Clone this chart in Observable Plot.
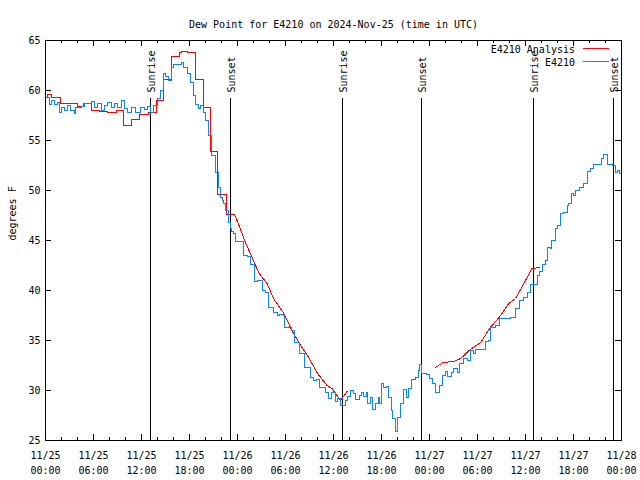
<!DOCTYPE html>
<html><head><meta charset="utf-8">
<script src="https://cdn.jsdelivr.net/npm/d3@7"></script>
<script src="https://cdn.jsdelivr.net/npm/@observablehq/plot@0.6"></script>
<style>html,body{margin:0;padding:0;background:#fff;}</style>
</head><body><div id="chart"></div>
<script>
const title = "Dew Point for E4210 on 2024-Nov-25 (time in UTC)";
const yLabel = "degrees F";
const xDomain = [0, 72];           // hours since 11/25 00:00 UTC
const yDomain = [25, 65];
const xTickHours = [0, 6, 12, 18, 24, 30, 36, 42, 48, 54, 60, 66, 72];
const xTickDates = ["11/25","11/25","11/25","11/25","11/26","11/26","11/26","11/26","11/27","11/27","11/27","11/27","11/28"];
const xTickTimes = ["00:00","06:00","12:00","18:00","00:00","06:00","12:00","18:00","00:00","06:00","12:00","18:00","00:00"];
const xMinorHours = [2,4,8,10,14,16,20,22,26,28,32,34,38,40,44,46,50,52,56,58,62,64,68,70];
const yTicks = [25, 30, 35, 40, 45, 50, 55, 60, 65];
const sunHours = [13.1, 23.1, 37.1, 47.05, 61.05, 71.0];
const sunLabels = ["Sunrise", "Sunset", "Sunrise", "Sunset", "Sunrise", "Sunset"];
const seriesNames = ["E4210 Analysis", "E4210"];
const seriesColors = ["#ff0000", "#0a84ff"];

// E4210 observed dew point [hour, degF]
const observed = [[0,59.3],[0.5,58.6],[0.8,59.0],[1.1,58.6],[1.5,58.8],[1.75,57.8],[2.0,58.3],[2.4,58.0],[2.7,58.5],[3.1,58.0],[3.6,57.7],[3.8,58.3],[4.5,58.4],[4.9,58.7],[5.3,58.7],[5.7,58.9],[6.1,58.3],[6.5,58.7],[7.0,58.0],[7.4,58.5],[7.8,58.8],[8.2,58.3],[8.6,58.7],[9.0,58.3],[9.5,59.0],[9.9,58.2],[10.3,57.8],[10.8,58.3],[11.3,57.8],[11.9,58.3],[12.4,58.1],[12.8,58.4],[13.1,57.8],[13.5,58.5],[14.0,59.2],[14.4,60.0],[14.7,61.7],[15.0,61.4],[15.4,61.0],[15.7,62.3],[16.0,62.6],[16.5,62.6],[17.0,62.8],[17.3,62.3],[17.7,61.7],[18.1,60.8],[18.5,59.5],[18.8,58.6],[19.1,58.2],[19.4,58.5],[19.7,57.8],[20.0,57.0],[20.4,55.5],[20.8,53.5],[21.25,51.8],[21.6,50.3],[21.9,49.3],[22.1,49.0],[22.3,48.7],[22.5,48.0],[22.9,46.8],[23.1,46.2],[23.3,45.9],[23.5,45.7],[23.75,44.9],[24.4,44.9],[24.7,43.5],[25.2,43.4],[25.6,42.6],[26.1,40.9],[26.5,41.0],[27.1,40.0],[27.5,39.8],[27.9,38.3],[28.5,37.8],[29.0,37.5],[29.2,37.6],[29.7,37.5],[29.9,36.3],[30.4,36.3],[30.8,36.0],[31.1,34.8],[31.7,33.7],[32.2,33.7],[32.4,32.3],[32.8,32.3],[33.1,31.3],[33.5,31.0],[33.9,31.1],[34.2,30.3],[34.7,30.3],[35.0,29.8],[35.4,29.2],[35.75,29.8],[36.25,28.9],[36.5,29.2],[36.9,28.5],[37.2,28.5],[37.5,29.0],[37.8,29.4],[38.1,30.0],[38.5,29.7],[38.75,29.1],[39.2,29.5],[39.5,29.8],[39.8,29.4],[40.1,29.8],[40.3,28.7],[40.6,29.3],[40.9,28.1],[41.25,28.7],[41.6,29.3],[41.8,28.7],[42.0,30.7],[42.3,30.3],[42.6,30.4],[42.9,29.3],[43.25,28.0],[43.4,27.2],[43.7,26.5],[43.8,25.9],[44.0,27.3],[44.4,28.7],[44.8,30.1],[45.1,29.3],[45.4,30.2],[45.8,31.1],[46.25,31.3],[46.6,32.0],[46.8,32.6],[47.0,31.7],[47.6,31.6],[48.0,31.2],[48.4,30.7],[48.75,29.8],[49.2,30.5],[49.6,31.5],[50.0,31.9],[50.3,31.4],[50.8,31.8],[51.0,32.2],[51.5,31.8],[51.8,32.7],[52.2,33.2],[52.7,33.0],[53.1,34.0],[53.5,33.7],[53.75,34.1],[54.4,34.1],[55.0,34.9],[55.4,35.0],[55.6,36.3],[56.25,36.5],[56.8,37.2],[58.1,37.3],[58.75,38.2],[59.2,39.0],[59.8,39.3],[60.2,39.8],[60.6,40.6],[61.2,40.6],[61.5,41.5],[61.75,41.9],[62.1,42.6],[62.5,43.0],[62.8,44.3],[63.1,44.2],[63.3,45.0],[63.75,46.2],[64.0,46.5],[64.4,47.7],[64.8,47.8],[65.2,48.5],[65.4,48.7],[65.75,49.7],[66.0,49.5],[66.25,50.0],[66.7,50.3],[67.3,50.7],[67.7,51.9],[68.1,52.2],[68.5,52.6],[69.2,52.6],[69.5,53.2],[69.8,53.6],[70.2,52.6],[70.6,52.6],[70.9,52.5],[71.2,51.8],[71.5,52.0],[71.7,51.7],[72.0,51.6]];

// E4210 Analysis: hourly stepped part, then two continuous parts
const analysisSteps = [[0,59.3],[0.3,59.6],[0.8,59.3],[1.9,58.7],[4.0,58.4],[4.8,58.7],[5.7,58.0],[6.8,57.9],[7.8,57.8],[8.9,58.0],[9.8,56.5],[10.8,57.1],[11.8,57.6],[12.9,57.8],[13.9,59.0],[14.8,61.1],[15.8,63.4],[16.7,63.8],[17.0,63.9],[17.8,63.8],[18.7,61.1],[19.7,58.3],[20.6,53.9],[21.5,49.6],[22.6,47.6],[23.6,47.6]];
const analysisDay2 = [[23.6,47.6],[24.0,46.9],[25.0,44.8],[25.6,43.7],[26.7,41.7],[27.7,40.7],[28.5,39.2],[29.8,37.7],[30.8,36.0],[31.9,34.5],[32.9,33.3],[34.0,31.7],[35.2,30.5],[35.8,30.2],[36.9,29.0],[37.7,29.9]];
const analysisDay3 = [[48.75,32.3],[49.7,32.8],[51.0,32.9],[51.9,33.2],[53.1,34.1],[54.4,34.8],[55.6,36.3],[56.9,37.5],[57.9,38.7],[58.75,39.2],[59.8,40.7],[60.8,42.2],[61.8,42.3]];

const sunEvents = sunHours.map((h, i) => ({h, label: sunLabels[i]}));
const majorLen = 6, minorLen = 3;

function tickMarks(index, scales, values, dims) {
  const g = d3.create("svg:g").attr("stroke", "black").attr("shape-rendering", "crispEdges");
  const top = dims.marginTop, bot = dims.height - dims.marginBottom;
  const left = dims.marginLeft, right = dims.width - dims.marginRight;
  const addX = (h, len) => {
    const x = Math.round(scales.x(h)) + 0.5;
    g.append("line").attr("x1", x).attr("x2", x).attr("y1", bot).attr("y2", bot - len);
    g.append("line").attr("x1", x).attr("x2", x).attr("y1", top).attr("y2", top + len);
  };
  xTickHours.forEach(h => addX(h, majorLen));
  xMinorHours.forEach(h => addX(h, minorLen));
  yTicks.forEach(v => {
    const y = Math.round(scales.y(v)) + 0.5;
    g.append("line").attr("x1", left).attr("x2", left + majorLen).attr("y1", y).attr("y2", y);
    g.append("line").attr("x1", right).attr("x2", right - majorLen).attr("y1", y).attr("y2", y);
  });
  return g.node();
}

function legend(index, scales, values, dims) {
  const g = d3.create("svg:g");
  const right = dims.width - dims.marginRight;
  seriesNames.forEach((name, i) => {
    const y = dims.marginTop + 10 + i * 13;
    g.append("text").attr("x", right - 46).attr("y", y).attr("text-anchor", "end")
      .attr("dominant-baseline", "middle").attr("fill", "black").text(name);
    g.append("line").attr("x1", right - 38).attr("x2", right - 12)
      .attr("y1", Math.round(y) - 1.5).attr("y2", Math.round(y) - 1.5)
      .attr("stroke", seriesColors[i]).attr("shape-rendering", "crispEdges");
  });
  return g.node();
}

const chart = Plot.plot({
  width: 640,
  height: 480,
  marginLeft: 45,
  marginRight: 19,
  marginTop: 40,
  marginBottom: 40,
  style: {fontFamily: "'DejaVu Sans Mono', monospace", fontSize: "10px", background: "white", color: "black"},
  x: {domain: xDomain},
  y: {domain: yDomain},
  marks: [
    Plot.ruleX(sunEvents, {x: "h", stroke: "black", insetTop: 58, shapeRendering: "crispEdges"}),
    Plot.text(sunEvents, {x: "h", text: "label", frameAnchor: "top", dy: 52, dx: 1, rotate: -90, textAnchor: "start", lineAnchor: "middle", fill: "black"}),
    Plot.line(analysisSteps, {x: d => d[0], y: d => d[1], stroke: seriesColors[0], strokeWidth: 1, curve: "step-after", shapeRendering: "crispEdges"}),
    Plot.line(analysisDay2, {x: d => d[0], y: d => d[1], stroke: seriesColors[0], strokeWidth: 1, shapeRendering: "crispEdges"}),
    Plot.line(analysisDay3, {x: d => d[0], y: d => d[1], stroke: seriesColors[0], strokeWidth: 1, shapeRendering: "crispEdges"}),
    Plot.line(observed, {x: d => d[0], y: d => d[1], stroke: seriesColors[1], strokeWidth: 1, curve: "step-after", shapeRendering: "crispEdges"}),
    Plot.frame({stroke: "black", shapeRendering: "crispEdges"}),
    tickMarks,
    Plot.axisY({ticks: yTicks, tickSize: 0, tickPadding: 5, label: null}),
    Plot.axisX({ticks: xTickHours, tickSize: 0, tickPadding: 11, label: null, tickFormat: h => xTickDates[xTickHours.indexOf(h)]}),
    Plot.axisX({ticks: xTickHours, tickSize: 0, tickPadding: 26, label: null, tickFormat: h => xTickTimes[xTickHours.indexOf(h)]}),
    Plot.text([title], {frameAnchor: "top", dy: -20, fill: "black"}),
    Plot.text([yLabel], {frameAnchor: "left", dx: -33, rotate: -90, fill: "black"}),
    legend
  ]
});
document.getElementById("chart").appendChild(chart);
</script>
</body></html>
